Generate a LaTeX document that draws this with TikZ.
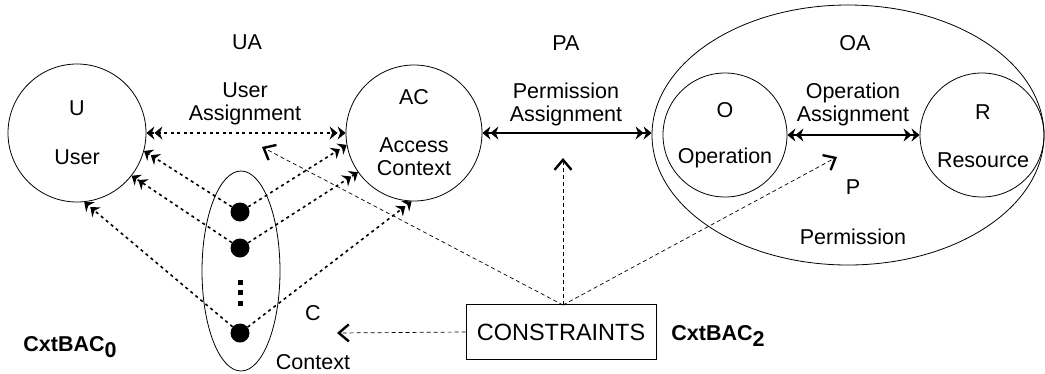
\documentclass[tikz,border=0pt]{standalone}
\usepackage{fontspec}
\setmainfont{Liberation Sans}
\usetikzlibrary{arrows.meta,positioning,calc,shapes.geometric}
\tikzset{
  setbox/.style={draw=black, line width=0.8pt, circle, inner sep=0pt},
  ovalbox/.style={draw=black, line width=0.8pt, ellipse, inner sep=0pt},
  lbl/.style={align=center, inner sep=0pt, font=\fontsize{21.5}{23}\selectfont},
  dotnode/.style={circle, fill=black, inner sep=0pt, minimum size=19pt},
  dbl/.tip={Stealth[length=8pt,width=13pt]Stealth[length=8pt,width=13pt]},
  cxarr/.style={-dbl, line width=1.6pt, dash pattern=on 3pt off 3.5pt},
  uarr/.style={dbl-dbl, line width=1.6pt, dash pattern=on 3pt off 3.5pt},
  parr/.style={dbl-dbl, line width=1.1pt},
  carr/.style={-{Straight Barb[length=10pt,width=17pt,line width=2.4pt]}, line width=0.7pt,
               dash pattern=on 4pt off 3pt}}

\begin{document}
\begin{tikzpicture}[x=1pt,y=-1pt]
  \useasboundingbox (0,0) rectangle (1045,373);
  % sets
  \node[setbox, minimum size=138pt] (U) at (77,133) {};
  \node[setbox, minimum size=136pt] (AC) at (414,133) {};
  \node[ovalbox, minimum width=392pt, minimum height=260pt] (OA) at (848,135) {};
  \node[setbox, minimum size=124pt] (O) at (725,135) {};
  \node[setbox, minimum size=124pt] (R) at (982,135) {};
  \node[ovalbox, minimum width=78pt, minimum height=200pt] (C) at (241,271) {};
  \node[draw, line width=0.8pt, minimum width=190pt, minimum height=55pt, inner sep=0pt,
        font=\fontsize{23.5}{25}\selectfont] (cons) at (561,332) {CONSTRAINTS};
  % texts
  \node[lbl] (uName) at (77,108) {U};
  \node[lbl] (uText) at (77,157) {User};
  \node[lbl] (acName) at (414,97) {AC};
  \node[lbl] (acText) at (414,157) {Access\\Context};
  \node[lbl] (oName) at (725,110) {O};
  \node[lbl] (oText) at (725,158) {Operation};
  \node[lbl] (rName) at (983,112) {R};
  \node[lbl] (rText) at (983,160) {Resource};
  \node[lbl] (ua) at (247,42) {UA};
  \node[lbl] (uaText) at (245,104) {User\\Assignment};
  \node[lbl] (pa) at (566,43) {PA};
  \node[lbl] (paText) at (566,104) {Permission\\Assignment};
  \node[lbl] (oa) at (855,43) {OA};
  \node[lbl] (oaText) at (853,104) {Operation\\Assignment};
  \node[lbl] (pName) at (853,187) {P};
  \node[lbl] (pText) at (853,237) {Permission};
  \node[lbl] (cName) at (313,313) {C};
  \node[lbl] (cText) at (313,362) {Context};
  \node[lbl, font=\fontsize{21.5}{23}\selectfont\bfseries] (bac0) at (70,347) {CxtBAC\raisebox{-0.5ex}{0}};
  \node[lbl, font=\fontsize{21.5}{23}\selectfont\bfseries] (bac2) at (718,336) {CxtBAC\raisebox{-0.5ex}{2}};
  % contexts
  \node[dotnode] (c1) at (240,212) {};
  \node[dotnode] (c2) at (240,248) {};
  \node[dotnode] (c3) at (240,333) {};
  \foreach \y in {282,292,303}
    \fill (237.5,\y-2.5) rectangle (242.5,\y+2.5);
  \draw[cxarr] (c1) -- (U.-15);
  \draw[cxarr] (c2) -- (U.-38);
  \draw[cxarr] (c3) -- (U.-84);
  \draw[cxarr] (c1) -- (AC.190);
  \draw[cxarr] (c2) -- (AC.215);
  \draw[cxarr] (c3) -- (AC.268);
  % assignments
  \draw[uarr] (U.east) -- (AC.west);
  \draw[parr] (AC.east) -- (AC.east -| OA.west);
  \draw[parr] (O.east) -- (R.west);
  % constraints
  \coordinate (uaTip) at (262,147);
  \coordinate (paTip) at (563,158);
  \coordinate (pTip) at (837,157);
  \coordinate (cTip) at (337,333);
  \coordinate (consTop) at (563,305);
  \draw[carr] (consTop) -- (uaTip);
  \draw[carr] (consTop) -- (paTip);
  \draw[carr] (consTop) -- (pTip);
  \draw[carr] (cons.west) -- (cTip);
\end{tikzpicture}
\end{document}
